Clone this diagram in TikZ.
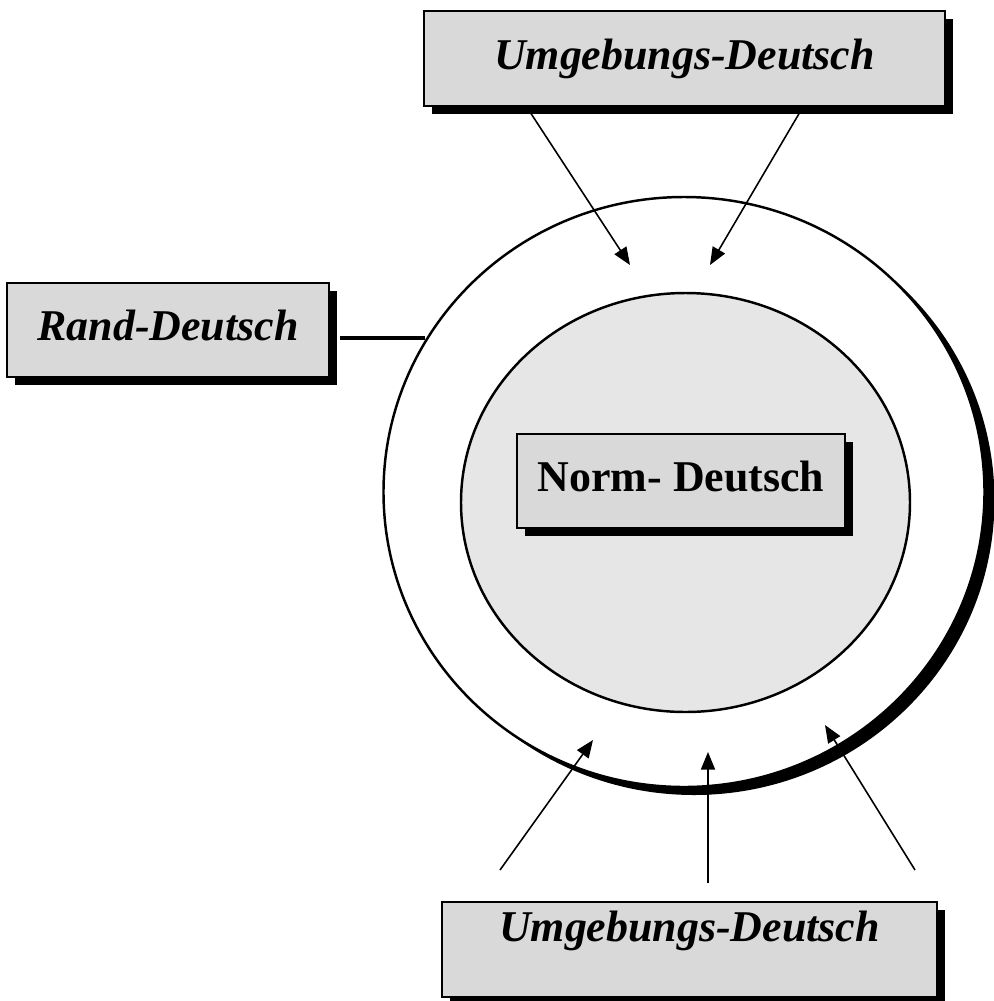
\documentclass[tikz,border=0pt]{standalone}
\usepackage{fontspec}
\setmainfont{Liberation Serif}
\usepackage{tikz}
\usetikzlibrary{shapes, arrows.meta, positioning, calc, shadows}

\definecolor{boxgray}{HTML}{D9D9D9}
\definecolor{ringgray}{HTML}{E6E6E6}

\begin{document}
\begin{tikzpicture}[
					varbox/.style={draw, line width=0.6pt, fill=boxgray,
						drop shadow={shadow xshift=0.08cm, shadow yshift=-0.08cm, fill=black, opacity=1},
						inner sep=0pt, text height=8.5pt, text depth=2.5pt,
						font=\fontsize{12.5}{14}\selectfont\bfseries\itshape},
					ring/.style={draw, ellipse, line width=0.7pt, inner sep=0pt},
					pfeil/.style={-{Triangle[length=5pt,width=4pt]}, line width=0.45pt}]
				\useasboundingbox (0,0) rectangle (9.94,-10.01);

				% the two circles
				\node[ring, fill=white, minimum width=6.01cm, minimum height=5.90cm,
					drop shadow={shadow xshift=0.1cm, shadow yshift=-0.08cm, fill=black, opacity=1}]
					(aussen) at (6.84,-4.92) {};
				\node[ring, fill=ringgray, minimum width=4.49cm, minimum height=4.19cm] (innen) at (6.855,-5.025) {};

				\node[varbox, minimum width=3.28cm, minimum height=0.94cm,
					font=\fontsize{12.5}{14}\selectfont\bfseries] (norm) at (6.81,-4.81) {Norm- Deutsch};

				\node[varbox, minimum width=5.21cm, minimum height=0.95cm] (umgoben) at (6.845,-0.585) {Umgebungs-Deutsch};
				\node[varbox, minimum width=3.22cm, minimum height=0.94cm] (rand) at (1.68,-3.30) {Rand-Deutsch};
				\node[varbox, minimum width=4.95cm, minimum height=0.95cm,
					text height=8.5pt, text depth=13pt] (umgunten) at (6.895,-9.495) {Umgebungs-Deutsch};

				% arrow ends
				\coordinate (o1) at (5.30,-1.12);
				\coordinate (o2) at (8.00,-1.12);
				\coordinate (p1) at (6.30,-2.65);
				\coordinate (p2) at (7.10,-2.65);
				\coordinate (u1) at (5.00,-8.70);
				\coordinate (u2) at (7.08,-8.83);
				\coordinate (u3) at (9.15,-8.70);
				\coordinate (q1) at (5.93,-7.40);
				\coordinate (q2) at (7.08,-7.52);
				\coordinate (q3) at (8.25,-7.25);
				\coordinate (r1) at (3.40,-3.38);
				\coordinate (r2) at (4.25,-3.38);

				\foreach \from/\to in {o1/p1, o2/p2, u1/q1, u2/q2, u3/q3}
					\draw[pfeil] (\from) -- (\to);
				\draw[line width=1pt] (r1) -- (r2);
			\end{tikzpicture}
\end{document}
